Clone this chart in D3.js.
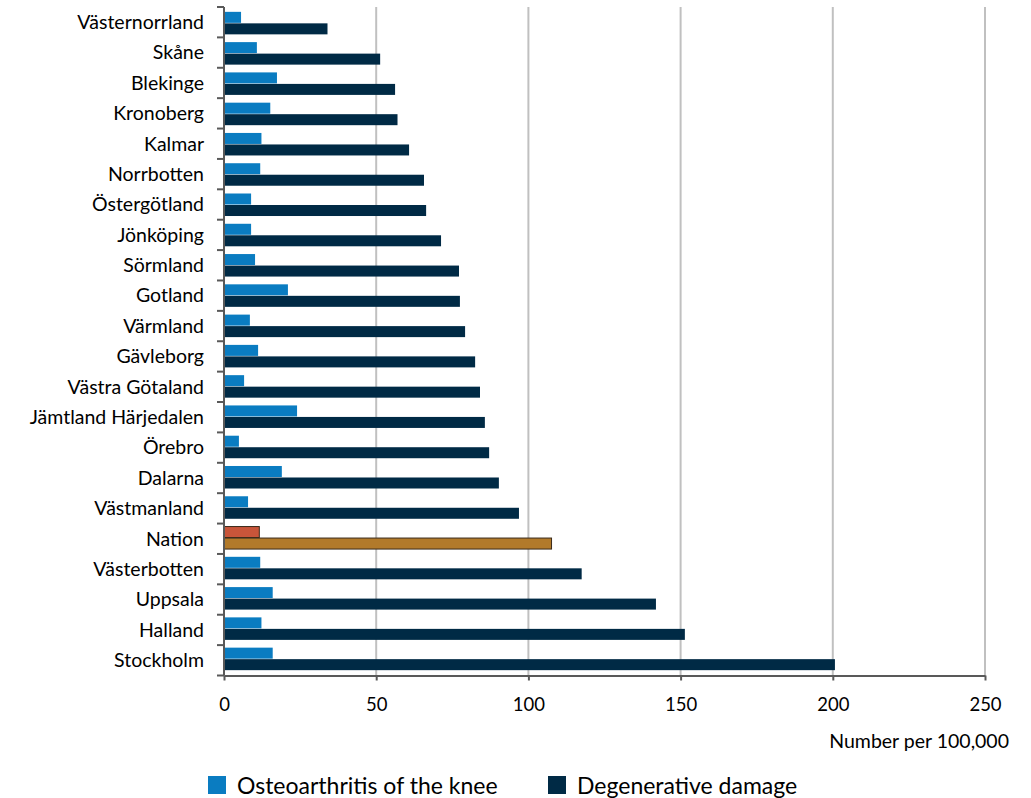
<!DOCTYPE html>
<html>
<head>
<meta charset="utf-8">
<script src="https://cdn.jsdelivr.net/npm/d3@7"></script>
<style>
  body { margin: 0; background: #fff; }
  text { font-family: Lato, "Open Sans", sans-serif; fill: #000; }
</style>
</head>
<body>
<div id="chart"></div>
<script>
var regions = ["Västernorrland", "Skåne", "Blekinge", "Kronoberg", "Kalmar", "Norrbotten", "Östergötland", "Jönköping", "Sörmland", "Gotland", "Värmland", "Gävleborg", "Västra Götaland", "Jämtland Härjedalen", "Örebro", "Dalarna", "Västmanland", "Nation", "Västerbotten", "Uppsala", "Halland", "Stockholm"];
var kneeValues = [5.6, 10.8, 17.4, 15.2, 12.3, 11.9, 8.9, 8.9, 10.2, 21.0, 8.5, 11.2, 6.6, 24.0, 4.9, 19.0, 7.9, 11.6, 11.9, 16.0, 12.3, 16.0];
var degenerativeValues = [34.0, 51.3, 56.2, 57.0, 60.8, 65.7, 66.4, 71.3, 77.2, 77.5, 79.2, 82.5, 84.1, 85.7, 87.1, 90.3, 96.9, 107.6, 117.5, 141.9, 151.4, 200.7];
var seriesNames = ["Osteoarthritis of the knee", "Degenerative damage"];
var xTicks = [0, 50, 100, 150, 200, 250];

var width = 1031, height = 798;
var plotLeft = 224, plotRight = 985, plotTop = 7, plotBottom = 675.5;

var svg = d3.select("#chart").append("svg")
    .attr("width", width)
    .attr("height", height);

var x = d3.scaleLinear().domain([0, 250]).range([plotLeft, plotRight]);
var y0 = d3.scaleBand().domain(regions).range([plotTop, plotBottom]).paddingInner(0.24).paddingOuter(0.16);
var y1 = d3.scaleBand().domain(seriesNames).range([0, y0.bandwidth()]);

var colors = { normal: ["#0a7cc1", "#002a45"], nation: ["#c8553a", "#b27a2a"] };

// grid lines
svg.append("g").selectAll("line")
    .data(xTicks.slice(1))
    .enter().append("line")
    .attr("x1", function (d) { return x(d); })
    .attr("x2", function (d) { return x(d); })
    .attr("y1", plotTop)
    .attr("y2", plotBottom)
    .attr("stroke", "#c0c0c0")
    .attr("stroke-width", 2);

// bars
var rows = regions.map(function (r, i) {
    return { region: r, vals: [kneeValues[i], degenerativeValues[i]] };
});
var groups = svg.append("g").selectAll("g")
    .data(rows)
    .enter().append("g")
    .attr("transform", function (d) { return "translate(0," + y0(d.region) + ")"; });
groups.selectAll("rect")
    .data(function (d) {
        return d.vals.map(function (v, k) { return { v: v, k: k, nation: d.region == "Nation" }; });
    })
    .enter().append("rect")
    .attr("x", x(0))
    .attr("y", function (d) { return y1(seriesNames[d.k]); })
    .attr("width", function (d) { return x(d.v) - x(0); })
    .attr("height", y1.bandwidth() - 0.5)
    .attr("fill", function (d) { return d.nation ? colors.nation[d.k] : colors.normal[d.k]; })
    .attr("stroke", function (d) { return d.nation ? "#3a2a1a" : "none"; })
    .attr("stroke-width", 1);

// left axis with ticks at category boundaries
var step = (plotBottom - plotTop) / regions.length;
var yAxis = svg.append("g");
yAxis.append("line")
    .attr("x1", plotLeft).attr("x2", plotLeft)
    .attr("y1", plotTop).attr("y2", plotBottom)
    .attr("stroke", "#595959").attr("stroke-width", 2);
yAxis.selectAll("line.tick")
    .data(d3.range(regions.length + 1))
    .enter().append("line")
    .attr("class", "tick")
    .attr("x1", plotLeft - 7).attr("x2", plotLeft)
    .attr("y1", function (i) { return plotTop + i * step; })
    .attr("y2", function (i) { return plotTop + i * step; })
    .attr("stroke", "#595959").attr("stroke-width", 2);
yAxis.selectAll("text")
    .data(regions)
    .enter().append("text")
    .attr("x", 204)
    .attr("y", function (d, i) { return plotTop + (i + 0.5) * step; })
    .attr("dy", "0.35em")
    .attr("text-anchor", "end")
    .style("font-size", "19.5px")
    .text(function (d) { return d; });

// bottom axis
var xAxis = svg.append("g").attr("transform", "translate(0," + plotBottom + ")")
    .call(d3.axisBottom(x).tickValues(xTicks).tickSize(5).tickPadding(17).tickSizeOuter(0));
xAxis.select(".domain").attr("stroke", "#595959").attr("stroke-width", 2);
xAxis.selectAll(".tick line").attr("stroke", "#595959").attr("stroke-width", 2);
xAxis.selectAll(".tick text")
    .style("font-size", "18.5px")
    .style("font-family", "Lato, sans-serif")
    .attr("fill", "#000");

svg.append("text")
    .attr("x", 1009)
    .attr("y", 741)
    .attr("dy", "0.35em")
    .attr("text-anchor", "end")
    .style("font-size", "19.5px")
    .text("Number per 100,000");

// legend
var legendX = [208, 548];
var legend = svg.append("g").selectAll("g")
    .data(seriesNames)
    .enter().append("g")
    .attr("transform", function (d, i) { return "translate(" + legendX[i] + ",776)"; });
legend.append("rect")
    .attr("width", 18).attr("height", 18)
    .attr("fill", function (d, i) { return colors.normal[i]; });
legend.append("text")
    .attr("x", 29)
    .attr("y", 10)
    .attr("dy", "0.35em")
    .style("font-size", "23px")
    .text(function (d) { return d; });
</script>
</body>
</html>
